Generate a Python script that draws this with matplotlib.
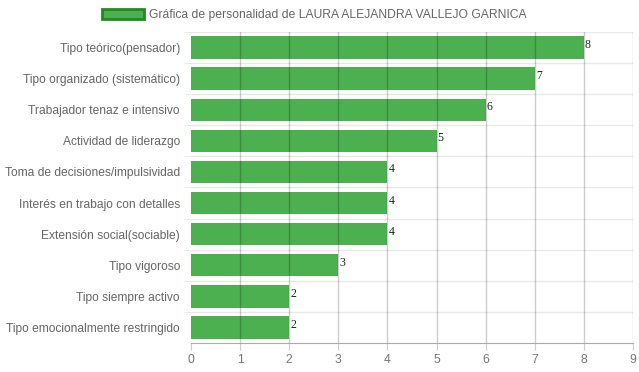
import numpy as np
import matplotlib.pyplot as plt
import matplotlib.patches as mpatches

# DATA
categories = [
    "Tipo teórico(pensador)",
    "Tipo organizado (sistemático)",
    "Trabajador tenaz e intensivo",
    "Actividad de liderazgo",
    "Toma de decisiones/impulsividad",
    "Interés en trabajo con detalles",
    "Extensión social(sociable)",
    "Tipo vigoroso",
    "Tipo siempre activo",
    "Tipo emocionalmente restringido",
]
values = [8, 7, 6, 5, 4, 4, 4, 3, 2, 2]
x_ticks = list(range(0, 10))
legend_label = "Gráfica de personalidad de LAURA ALEJANDRA VALLEJO GARNICA"

plt.rcParams['font.family'] = ['Liberation Sans', 'DejaVu Sans']

fig = plt.figure(figsize=(6.39, 3.72), dpi=100)
ax = fig.add_axes([191 / 639, 1 - 343 / 372, (633 - 191) / 639, (343 - 32) / 372])

y = np.arange(len(categories))
ax.barh(y, values, height=0.72, color='#4caf50', zorder=2)

# value labels at bar ends
for yi, v in zip(y, values):
    ax.text(v + 0.02, yi - 0.08, str(v), fontfamily='Liberation Serif', fontsize=8.5,
            va='center', ha='left', color='#222222', zorder=4)

ax.set_xlim(0, 9)
ax.set_ylim(len(categories) - 0.5, -0.5)
ax.set_xticks(x_ticks)
ax.set_yticks(y)
ax.set_yticklabels(categories)

# vertical grid on top of bars
for xv in x_ticks[1:]:
    ax.axvline(xv, color='#000000', alpha=0.2, lw=1, zorder=3)
# horizontal separators between categories
for b in np.arange(-0.5, len(categories) - 0.5, 1):
    ax.axhline(b, color='#e8e8e8', lw=1, zorder=1)

for s in ['top', 'right']:
    ax.spines[s].set_visible(False)
ax.spines['left'].set_visible(False)
ax.spines['bottom'].set_color('#aaaaaa')

ax.tick_params(axis='x', colors='#cccccc', labelcolor='#777777', labelsize=8.7, length=5, pad=3)
ax.tick_params(axis='y', length=0, labelcolor='#666666', labelsize=8.65, pad=8)

# short marks for horizontal grid on left
ax.set_yticks(np.arange(-0.5, len(categories) - 0.5, 1), minor=True)
ax.tick_params(axis='y', which='minor', length=5, color='#e8e8e8')

handle = mpatches.Patch(facecolor='#4caf50', edgecolor='#1e8c1e', linewidth=2, label=legend_label)
leg = fig.legend(handles=[handle], loc='upper center', bbox_to_anchor=(0.492, 1.005), frameon=False,
                 fontsize=8.7, handlelength=3.5, handleheight=0.9, handletextpad=0.45)
for t in leg.get_texts():
    t.set_color('#666666')

fig.savefig('out.png', dpi=100)
